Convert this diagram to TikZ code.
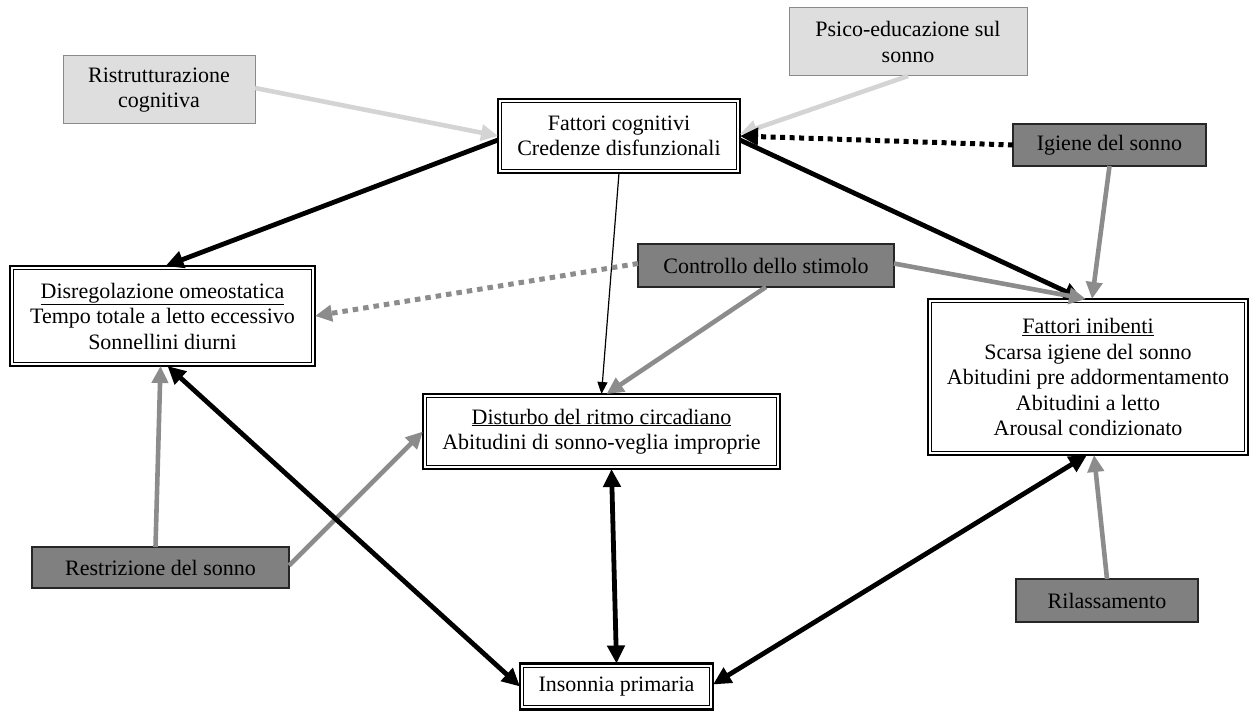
\documentclass[tikz,border=0pt]{standalone}
\usepackage{fontspec}
\setmainfont{Liberation Serif}
\usetikzlibrary{arrows.meta}
\definecolor{lgfill}{HTML}{DEDEDE}
\definecolor{lgborder}{HTML}{8A8A8A}
\definecolor{dkfill}{HTML}{808080}
\definecolor{grarrow}{HTML}{8C8C8C}
\definecolor{lgarrow}{HTML}{D4D4D4}
\newcommand\innerframe[1]{\draw[line width=1pt] ([shift={(3.6pt,-3.6pt)}]#1.north west) rectangle ([shift={(-3.6pt,3.6pt)}]#1.south east);}
\begin{document}
\begin{tikzpicture}[x=1pt,y=-1pt,
  every node/.style={font=\fontsize{22}{25.5}\selectfont, align=center, inner sep=0pt, outer sep=0pt},
  dbox/.style={draw=black, line width=2.2pt, fill=white},
  lbox/.style={draw=lgborder, fill=lgfill, line width=1pt},
  gbox/.style={draw=black!85, fill=dkfill, line width=1.2pt},
  blk/.style={draw=black, line width=4.8pt, -{Triangle[length=18pt,width=17pt]}},
  blkboth/.style={draw=black, line width=4.8pt, {Triangle[length=18pt,width=17pt]}-{Triangle[length=18pt,width=17pt]}},
  gry/.style={draw=grarrow, line width=4.6pt, -{Triangle[length=17pt,width=16pt]}},
  lgry/.style={draw=lgarrow, line width=4.6pt, -{Triangle[length=17pt,width=16pt]}},
  thinarrow/.style={draw=black, line width=1.2pt, -{Triangle[length=12pt,width=10pt]}},
  blkdot/.style={draw=black, line width=5pt, dash pattern=on 5pt off 4.5pt, -{Triangle[length=18pt,width=17pt]}},
  grydot/.style={draw=grarrow, line width=5pt, dash pattern=on 5.5pt off 5pt, -{Triangle[length=17pt,width=16pt]}},
]
\useasboundingbox (0,0) rectangle (1251,711);

% nodes
\node[lbox, minimum width=192pt, minimum height=68pt] (ristr) at (159,90) {Ristrutturazione\\cognitiva};
\node[lbox, minimum width=238pt, minimum height=68pt] (psico) at (908,42) {Psico-educazione sul\\sonno};
\node[dbox, minimum width=242pt, minimum height=74pt] (cogn) at (619,136) {Fattori cognitivi\\Credenze disfunzionali};
\node[gbox, minimum width=193pt, minimum height=42pt] (igiene) at (1109.5,145) {Igiene del sonno};
\node[dbox, minimum width=305pt, minimum height=100pt] (disreg) at (162.5,316) {\underline{Disregolazione omeostatica}\\Tempo totale a letto eccessivo\\Sonnellini diurni};
\node[gbox, minimum width=256pt, minimum height=43pt] (contr) at (766,265.5) {Controllo dello stimolo};
\node[dbox, minimum width=357pt, minimum height=75pt] (dist) at (601.5,431.5) {\underline{Disturbo del ritmo circadiano}\\Abitudini di sonno-veglia improprie};
\node[dbox, minimum width=320pt, minimum height=156pt] (inib) at (1088,377) {\underline{Fattori inibenti}\\Scarsa igiene del sonno\\Abitudini pre addormentamento\\Abitudini a letto\\Arousal condizionato};
\node[gbox, minimum width=257pt, minimum height=41pt] (restr) at (160.5,567.5) {Restrizione del sonno};
\node[dbox, minimum width=193pt, minimum height=46pt] (ins) at (616.5,686.5) {Insonnia primaria};
\node[gbox, minimum width=182pt, minimum height=43pt] (rilas) at (1107,600.5) {Rilassamento};

\innerframe{cogn}
\innerframe{disreg}
\innerframe{dist}
\innerframe{inib}
\innerframe{ins}

% connectors
\draw[lgry] ([yshift=2pt]ristr.east) -- (cogn.west);
\draw[lgry] (psico.south) -- ([yshift=2pt]cogn.east);
\draw[blkdot] (igiene.west) -- ([yshift=0pt]cogn.east);
\draw[blk] ([yshift=-4pt]cogn.west) -- ([xshift=3pt]disreg.north);
\draw[blk] ([yshift=-4pt]cogn.east) -- ([xshift=-6pt]inib.north);
\draw[thinarrow] (cogn.south) -- (dist.north);
\draw[grydot] ([yshift=2pt]contr.west) -- (disreg.east);
\draw[gry] ([yshift=2pt]contr.east) -- ([xshift=-2pt]inib.north);
\draw[gry] (contr.south) -- ([xshift=5pt]dist.north);
\draw[gry] (igiene.south) -- ([xshift=4pt]inib.north);
\draw[gry] ([xshift=-5pt]restr.north) -- ([xshift=-2pt]disreg.south);
\draw[gry] ([yshift=2pt]restr.east) -- (dist.west);
\draw[blkboth] ([xshift=5pt]disreg.south) -- (ins.west);
\draw[blkboth] ([xshift=10pt]dist.south) -- (ins.north);
\draw[blkboth] ([xshift=-1pt]inib.south) -- ([yshift=2pt]ins.east);
\draw[gry] (rilas.north) -- ([xshift=6pt]inib.south);
\end{tikzpicture}
\end{document}
